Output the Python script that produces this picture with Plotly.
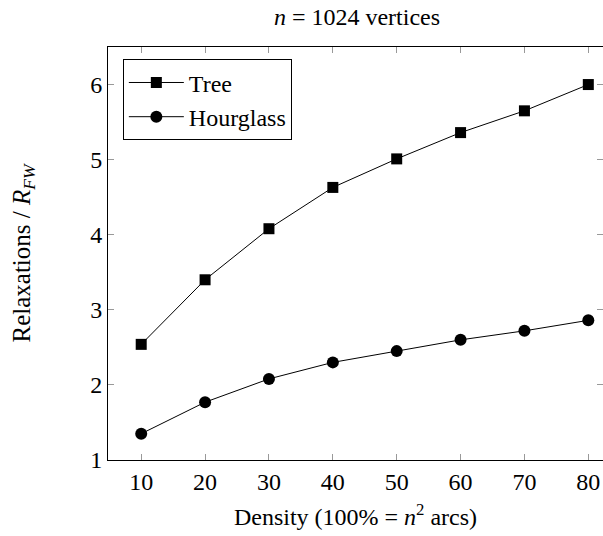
import plotly.graph_objects as go

density = [10, 20, 30, 40, 50, 60, 70, 80]
tree = [2.54, 3.40, 4.08, 4.63, 5.01, 5.36, 5.65, 6.0]
hourglass = [1.35, 1.77, 2.08, 2.30, 2.45, 2.60, 2.72, 2.86]
x_ticks = [10, 20, 30, 40, 50, 60, 70, 80]
y_ticks = [1, 2, 3, 4, 5, 6]

font_family = "Liberation Serif"

fig = go.Figure()
fig.add_trace(go.Scatter(x=density, y=tree, mode="lines+markers", name="Tree",
                         line=dict(color="black", width=1),
                         marker=dict(symbol="square", size=11, color="black")))
fig.add_trace(go.Scatter(x=density, y=hourglass, mode="lines+markers", name="Hourglass",
                         line=dict(color="black", width=1),
                         marker=dict(symbol="circle", size=12, color="black")))

axis_common = dict(showline=True, linecolor="black", linewidth=1, mirror="ticks",
                   ticks="inside", ticklen=6, tickcolor="#999999", tickwidth=1,
                   showgrid=False, zeroline=False,
                   tickfont=dict(family=font_family, size=24, color="black"))

fig.update_xaxes(range=[4.8, 82.3], tickvals=x_ticks,
                 title=dict(text="Density (100% = <i>n</i><sup>2</sup> arcs)",
                            font=dict(family=font_family, size=24, color="black"), standoff=14),
                 **axis_common)
fig.update_yaxes(range=[1, 6.5], tickvals=y_ticks,
                 title=dict(text="Relaxations / <i>R<sub>FW</sub></i>",
                            font=dict(family=font_family, size=25, color="black"), standoff=52),
                 **axis_common)

fig.update_layout(
    width=603, height=536,
    margin=dict(l=108, r=0, t=47, b=76),
    paper_bgcolor="white", plot_bgcolor="white",
    title=dict(text="<i>n</i> = 1024 vertices", x=357 / 603, xanchor="center",
               y=1 - 17 / 536, yanchor="middle",
               font=dict(family=font_family, size=24, color="black")),
    legend=dict(x=0.03, y=0.97, xanchor="left", yanchor="top",
                bordercolor="black", borderwidth=1, bgcolor="white",
                font=dict(family=font_family, size=24, color="black"),
                itemwidth=55, tracegroupgap=0),
    showlegend=True,
)

fig.write_html("out.html")
